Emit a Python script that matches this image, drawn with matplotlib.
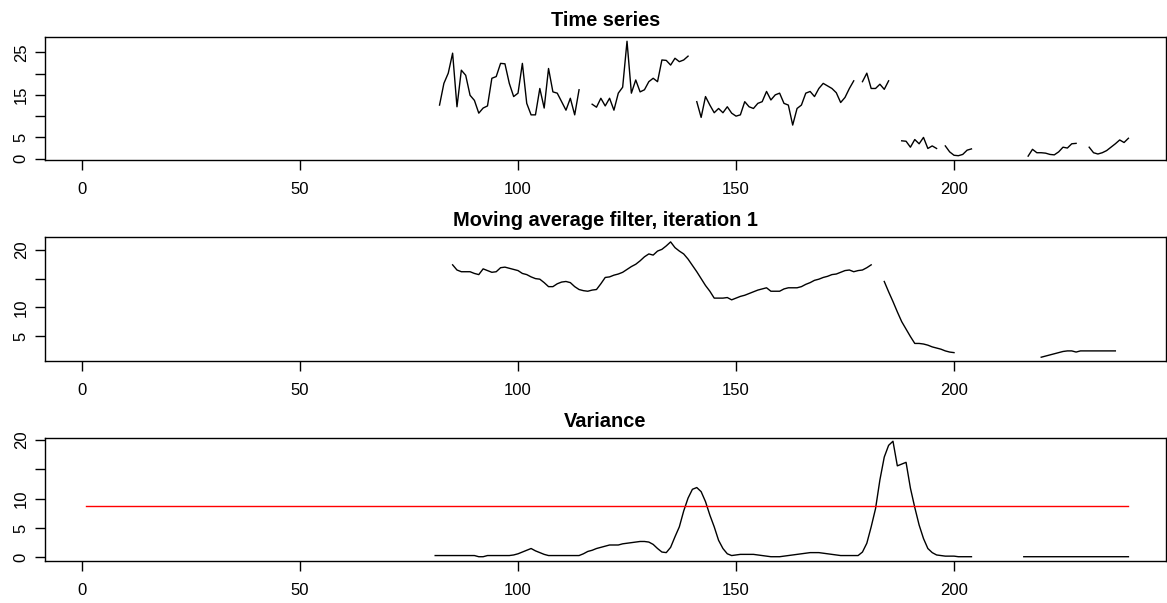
import numpy as np
import matplotlib.pyplot as plt

plt.rcParams['font.family'] = ['Liberation Sans', 'DejaVu Sans']

NA = np.nan

# observed series (x = 82..240), NA marks missing observations
series_x = np.arange(82, 241)
series_y = ([12.6, 17.7, 20.1, 24.8, 12.2, 20.8, 19.6, 14.9, 13.7, 10.7, 11.9,
             12.4, 18.9, 19.3, 22.4, 22.3, 17.7, 14.6, 15.4, 22.4, 13.0, 10.3,
             10.3, 16.5, 11.9, 21.2, 15.7, 15.4, 13.4, 11.4, 14.2, 10.3, 16.2]
            + [NA] * 2
            + [12.8, 12.1, 14.2, 12.4, 14.2, 11.4, 15.4, 16.8, 27.6, 15.4, 18.5,
               15.7, 16.2, 18.1, 18.9, 18.1, 23.2, 23.1, 22.0, 23.6, 22.8, 23.2, 24.1]
            + [NA]
            + [13.4, 9.7, 14.6, 12.6, 10.8, 11.8, 10.8, 12.2, 10.7, 10.0, 10.3,
               13.4, 12.2, 11.8, 13.0, 13.4, 15.8, 13.8, 15.0, 15.4, 13.0, 12.6,
               7.9, 11.8, 12.6, 15.4, 15.8, 14.6, 16.5, 17.7, 17.1, 16.5, 15.5,
               13.2, 14.4, 16.5, 18.3]
            + [NA]
            + [18.1, 20.1, 16.5, 16.5, 17.5, 16.3, 18.3]
            + [NA] * 2
            + [4.2, 4.1, 2.7, 4.5, 3.5, 5.0, 2.4, 3.0, 2.4]
            + [NA]
            + [3.0, 1.6, 0.8, 0.7, 1.0, 2.0, 2.3]
            + [NA] * 12
            + [0.6, 2.2, 1.4, 1.4, 1.3, 1.0, 0.9, 1.6, 2.7, 2.5, 3.5, 3.6]
            + [NA] * 2
            + [2.7, 1.4, 1.1, 1.4, 1.9, 2.7, 3.5, 4.4, 3.8, 4.8])

# smoothed series after first pass (x = 85..237)
ma_x = np.arange(85, 238)
ma_y = ([17.4, 16.5, 16.2, 16.2, 16.2, 15.9, 15.7, 16.7, 16.4, 16.1,
         16.2, 16.9, 17.0, 16.8, 16.6, 16.4, 15.9, 15.7, 15.3, 15.0,
         14.9, 14.3, 13.6, 13.6, 14.1, 14.4, 14.5, 14.3, 13.6, 13.1,
         12.9, 12.8, 13.0, 13.1, 14.1, 15.2, 15.3, 15.6, 15.8, 16.1,
         16.6, 17.1, 17.5, 18.1, 18.8, 19.3, 19.1, 19.8, 20.1, 20.7,
         21.4, 20.4, 19.8, 19.3, 18.4, 17.3, 16.2, 15.0, 13.8, 12.8,
         11.6, 11.6, 11.6, 11.7, 11.3, 11.6, 11.9, 12.1, 12.4, 12.7,
         13.0, 13.2, 13.4, 12.8, 12.8, 12.8, 13.2, 13.4, 13.4, 13.4,
         13.6, 14.0, 14.3, 14.7, 14.9, 15.2, 15.4, 15.7, 15.8, 16.1,
         16.4, 16.5, 16.2, 16.4, 16.5, 16.9, 17.4]
        + [NA] * 2
        + [14.5, 12.7, 11.0, 9.2, 7.5, 6.2, 4.9, 3.7, 3.7, 3.6, 3.4, 3.1,
           2.9, 2.7, 2.4, 2.2, 2.1]
        + [NA] * 19
        + [1.3, 1.5, 1.7, 1.9, 2.1, 2.3, 2.4, 2.4, 2.2, 2.4, 2.4, 2.4,
           2.4, 2.4, 2.4, 2.4, 2.4, 2.4])

# local variance (x = 81..240)
var_x = np.arange(81, 241)
var_y = ([0.3] * 10 + [0.1, 0.1] + [0.3] * 6
         + [0.4, 0.6, 0.9, 1.2, 1.5, 1.1, 0.8, 0.5, 0.3, 0.3]
         + [0.3] * 6
         + [0.6, 1.0, 1.2, 1.5, 1.7, 1.9, 2.1, 2.1, 2.1, 2.3]
         + [2.4, 2.5, 2.6, 2.7, 2.7, 2.6, 2.2, 1.5, 0.9, 0.8]
         + [1.7, 3.5, 5.2, 7.9, 10.1, 11.6, 11.9, 11.2, 9.5, 7.2]
         + [5.2, 2.9, 1.5, 0.6, 0.3, 0.4, 0.5, 0.5, 0.5, 0.5]
         + [0.4, 0.3, 0.2, 0.1, 0.1, 0.1, 0.2, 0.3, 0.4, 0.5]
         + [0.6, 0.7, 0.8, 0.8, 0.8, 0.7, 0.6, 0.5, 0.4, 0.3]
         + [0.3, 0.3, 0.3, 0.3, 0.9, 2.4, 5.2, 8.3, 13.2, 17.1]
         + [19.1, 19.8, 15.6, 15.9, 16.2, 11.8, 8.5, 5.5, 3.2, 1.5]
         + [0.8, 0.4, 0.3, 0.2, 0.2, 0.2, 0.1, 0.1, 0.1, 0.1]
         + [NA] * 11
         + [0.1] * 25)

threshold_x = [1, 240]
threshold = 8.8

x_ticks = [0, 50, 100, 150, 200]

panels = [
    dict(title='Time series', x=series_x, y=series_y,
         ylim=(-0.31, 28.67), yticks=[0, 5, 10, 15, 20, 25],
         ylabels=['0', '5', '', '15', '', '25'], top=36.7, bottom=160),
    dict(title='Moving average filter, iteration 1', x=ma_x, y=ma_y,
         ylim=(0.64, 22.2), yticks=[5, 10, 15, 20],
         ylabels=['5', '10', '', '20'], top=237.3, bottom=361),
    dict(title='Variance', x=var_x, y=var_y,
         ylim=(-0.63, 20.3), yticks=[0, 5, 10, 15, 20],
         ylabels=['0', '5', '10', '', '20'], top=438.3, bottom=561),
]

W, H = 1167, 603
fig = plt.figure(figsize=(W / 100, H / 100), dpi=100)
left_px, right_px = 45, 1166

axes = []
for p in panels:
    ax = fig.add_axes([left_px / W, (H - p['bottom']) / H,
                       (right_px - left_px) / W, (p['bottom'] - p['top']) / H])
    ax.plot(p['x'], np.array(p['y'], dtype=float), color='black', lw=1.0)
    ax.set_xlim(-8.49, 248.62)
    ax.set_ylim(*p['ylim'])
    ax.set_xticks(x_ticks)
    ax.set_xticklabels([str(t) for t in x_ticks])
    ax.set_yticks(p['yticks'])
    ax.set_yticklabels(p['ylabels'])
    ax.tick_params(axis='both', direction='out', length=7.2, width=1.0,
                   labelsize=12, color='black')
    ax.tick_params(axis='x', pad=8.5)
    ax.tick_params(axis='y', pad=4.5)
    for lab in ax.get_yticklabels():
        lab.set_rotation(90)
        lab.set_va('center')
        lab.set_ha('right')
    for s in ax.spines.values():
        s.set_linewidth(1.0)
    ax.set_title(p['title'], fontsize=14.4, fontweight='bold', pad=8)
    axes.append(ax)

# threshold on the variance panel
axes[2].plot(threshold_x, [threshold, threshold], color='red', lw=1.0)

fig.savefig('out.png', dpi=100)
